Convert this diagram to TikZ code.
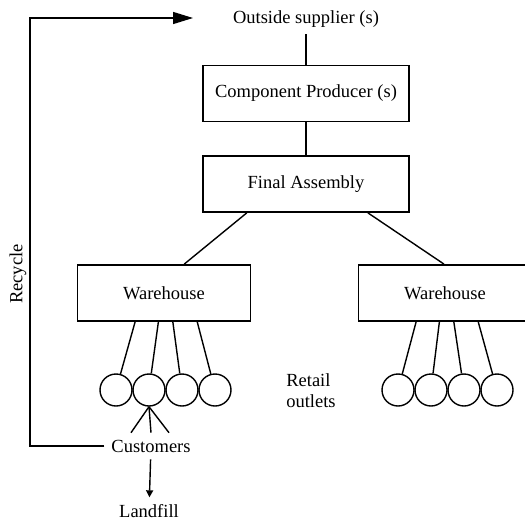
\documentclass[tikz,border=0pt]{standalone}
\usepackage{fontspec}
\setmainfont{Liberation Serif}
\usetikzlibrary{arrows.meta}

\begin{document}
\begin{tikzpicture}[x=0.5pt, y=-0.5pt, font=\fontsize{9.25}{10.5}\selectfont,
    box/.style={draw, line width=0.9pt, minimum height=28pt, inner sep=0pt},
    outlet/.style={draw, circle, line width=0.7pt, minimum size=16pt, inner sep=0pt},
    link/.style={line width=0.7pt}]
        \path[use as bounding box, clip] (0,0) rectangle (525,520);

        % Supplier and production
        \node (sup) at (306,19) {Outside supplier (s)};
        \node[box, minimum width=103pt] (comp) at (306,93.5) {Component Producer (s)};
        \node[box, minimum width=103pt] (final) at (306,184) {Final Assembly};
        \draw[link] (sup) -- (comp);
        \draw[link] (comp) -- (final);

        % Warehouses
        \node[box, minimum width=86.5pt] (whl) at (164,293) {Warehouse};
        \node[box, minimum width=86.5pt] (whr) at (445,293) {Warehouse};
        \draw[link] (final.-154) -- (whl.55);
        \draw[link] (final.-25) -- (whr.92);

        % Retail outlets (left)
        \node[outlet] (ol1) at (116,390) {};
        \node[outlet] (ol2) at (149,390) {};
        \node[outlet] (ol3) at (182,390) {};
        \node[outlet] (ol4) at (215,390) {};
        \draw[link] (whl.-135) -- (ol1);
        \draw[link] (whl.-101) -- (ol2);
        \draw[link] (whl.-73) -- (ol3);
        \draw[link] (whl.-41) -- (ol4);

        % Retail outlets (right)
        \node[outlet] (or1) at (398,390) {};
        \node[outlet] (or2) at (431,390) {};
        \node[outlet] (or3) at (464,390) {};
        \node[outlet] (or4) at (497,390) {};
        \draw[link] (whr.-135) -- (or1);
        \draw[link] (whr.-101) -- (or2);
        \draw[link] (whr.-73) -- (or3);
        \draw[link] (whr.-41) -- (or4);

        \node[align=left] (retail) at (311,391) {Retail\\outlets};

        % Customers
        \node (cust) at (151,446) {Customers};
        \draw[link] (ol2.south) -- ([xshift=-10pt]cust.north);
        \draw[link] (ol2.south) -- (cust.north);
        \draw[link] (ol2.south) -- ([xshift=9pt]cust.north);

        % Landfill
        \node (land) at (149,511) {Landfill};
        \draw[link, -{Triangle[length=3.5pt, width=3.5pt]}] (cust) -- (land);

        % Recycle loop
        \coordinate (rc) at (30,18);
        \coordinate (rtip) at (193,18);
        \draw[link, -{Triangle[length=10pt, width=6pt]}] (cust.west) -| (rc) -- (rtip);
        \node[rotate=90] (recycle) at (18,274) {Recycle};
    \end{tikzpicture}
\end{document}
